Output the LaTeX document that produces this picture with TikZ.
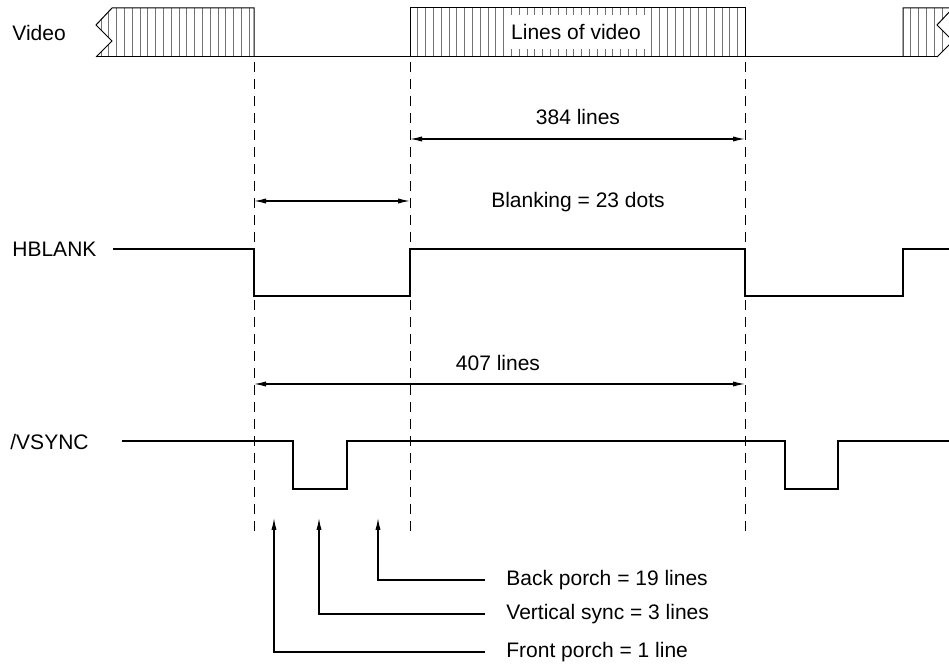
\documentclass[tikz,border=0pt]{standalone}
\usepackage{fontspec}
\setmainfont{Liberation Sans}
\usepackage{tikz}
\usetikzlibrary{arrows.meta,calc}

\begin{document}
\begin{tikzpicture}[x=0.5pt,y=-0.5pt,
  every node/.style={font=\fontsize{10.5}{12}\selectfont},
  signal/.style={line width=1.3pt, line join=miter},
  guide/.style={dash pattern=on 5pt off 3.5pt, line width=0.5pt},
  dimline/.style={{Latex[length=6pt,width=2.6pt]}-{Latex[length=6pt,width=2.6pt]}, line width=0.6pt},
  pointer/.style={-{Latex[length=6pt,width=2.6pt]}, line width=0.6pt},
  hatch/.style={black!55, line width=0.5pt}]

\useasboundingbox (0,0) rectangle (949,668);

% ------------------------
% PARAMETERS
% ------------------------
\def\eA{254}
\def\eB{410}
\def\eC{745}
\def\eD{903}
\def\vtop{8}
\def\vbot{57}
\def\hhi{249}
\def\hlo{296}
\def\shi{441}
\def\slo{489}

% ------------------------
% Video row
% ------------------------
\node[anchor=west, inner sep=0] (videoLabel) at (12,33) {Video};

% first block (cut on the left)
\begin{scope}
  \clip (112,\vtop) -- (96,25) -- (112,41) -- (96,\vbot) -- (\eA,\vbot) -- (\eA,\vtop) -- cycle;
  \foreach \x in {101,108.8,...,254}
    \draw[hatch] (\x,\vtop) -- (\x,\vbot);
\end{scope}
\draw[line width=0.5pt] (\eA,\vbot) -- (\eA,\vtop) -- (112,\vtop) -- (96,25) -- (112,41) -- (96,\vbot);

% middle block
\begin{scope}
  \clip (\eB,\vtop) rectangle (\eC,\vbot);
  \foreach \x in {417.8,425.6,...,745}
    \draw[hatch] (\x,\vtop) -- (\x,\vbot);
\end{scope}
\draw[line width=0.5pt] (\eB,\vbot) -- (\eB,\vtop) -- (\eC,\vtop) -- (\eC,\vbot);
\node[fill=white, inner xsep=3.2pt, inner ysep=4.6pt] (videoText) at (576,32) {Lines of video};

% last block (cut on the right)
\begin{scope}
  \clip (\eD,\vtop) -- (953,\vtop) -- (937,25) -- (953,41) -- (937,\vbot) -- (\eD,\vbot) -- cycle;
  \foreach \x in {910.8,918.6,...,953}
    \draw[hatch] (\x,\vtop) -- (\x,\vbot);
\end{scope}
\draw[line width=0.5pt] (\eD,\vbot) -- (\eD,\vtop) -- (953,\vtop) -- (937,25) -- (953,41) -- (937,\vbot);

% baseline
\draw[line width=0.5pt] (96,\vbot) -- (937,\vbot);

% ------------------------
% Dashed guides
% ------------------------
\foreach \x/\n in {\eA/A,\eB/B,\eC/C}{
  \coordinate (top\n) at (\x,62);
  \coordinate (bot\n) at (\x,537);
  \draw[guide] (top\n) -- (bot\n);
}

% ------------------------
% Dimensions
% ------------------------
\draw[dimline] (topB |- 0,139) -- (topC |- 0,139);
\node (lines384) at (578,117) {384 lines};

\draw[dimline] (topA |- 0,201) -- (topB |- 0,201);
\node (blankText) at (578,202) {Blanking = 23 dots};

\draw[dimline] (topA |- 0,384) -- (topC |- 0,384);
\node (lines407) at (498,363) {407 lines};

% ------------------------
% HBLANK
% ------------------------
\node[anchor=west, inner sep=0] (hblankLabel) at (12,249) {HBLANK};
\draw[signal] (113,\hhi) -- (\eA,\hhi) -- (\eA,\hlo) -- (\eB,\hlo) -- (\eB,\hhi)
  -- (\eC,\hhi) -- (\eC,\hlo) -- (\eD,\hlo) -- (\eD,\hhi) -- (949,\hhi);

% ------------------------
% /VSYNC
% ------------------------
\node[anchor=west, inner sep=0] (vsyncLabel) at (10,442) {/VSYNC};
\draw[signal] (122,\shi) -- (293,\shi) -- (293,\slo) -- (347,\slo) -- (347,\shi)
  -- (785,\shi) -- (785,\slo) -- (838,\slo) -- (838,\shi) -- (949,\shi);

% ------------------------
% Porch call-outs
% ------------------------
\coordinate (fpTip) at (274,518);
\coordinate (vsTip) at (319,518);
\coordinate (bpTip) at (378,518);

\node[anchor=west, inner sep=0] (bpLabel) at (506,580) {Back porch = 19 lines};
\node[anchor=west, inner sep=0] (vsLabel) at (506,614) {Vertical sync = 3 lines};
\node[anchor=west, inner sep=0] (fpLabel) at (506,652) {Front porch = 1 line};

\draw[pointer] ([xshift=-10.5pt]bpLabel.west) -| (bpTip);
\draw[pointer] ([xshift=-10.5pt]vsLabel.west) -| (vsTip);
\draw[pointer] ([xshift=-10.5pt]fpLabel.west) -| (fpTip);

\end{tikzpicture}
\end{document}
